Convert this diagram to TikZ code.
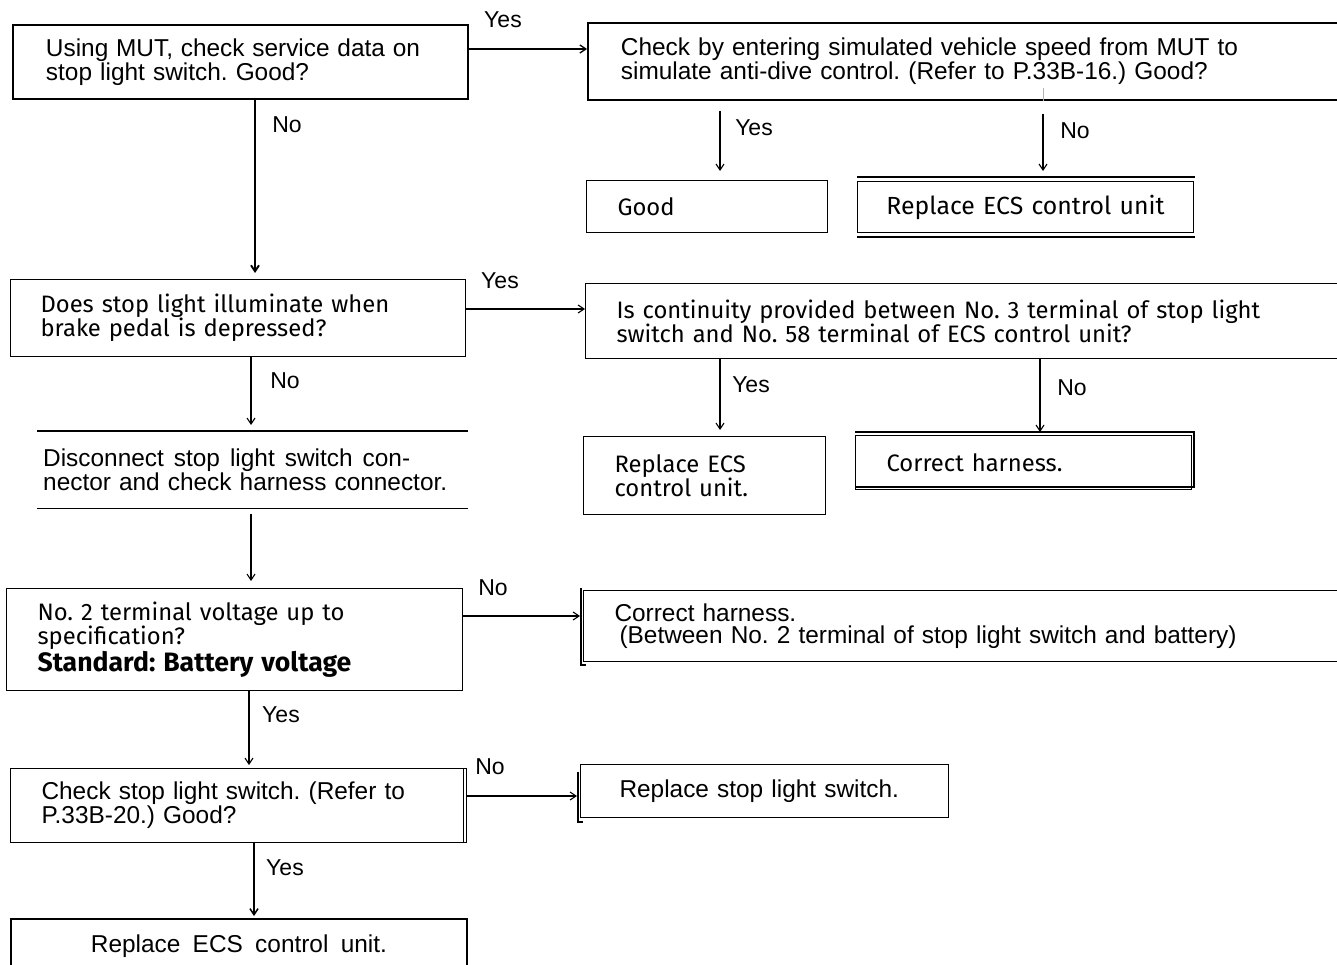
\documentclass[tikz,border=0pt]{standalone}
\usepackage{fontspec}
\setmainfont{Liberation Sans}
\newfontfamily\hum{Fira Sans}
\usetikzlibrary{arrows.meta}
\newcommand\spreadline[2]{\hbox to #1{\spaceskip=0.25em plus 1fil\relax #2}}
\frenchspacing
\begin{document}
\begin{tikzpicture}[x=1pt,y=-1pt,
  every node/.style={inner ysep=0pt},
  ar/.style={font=\frenchspacing\fontsize{24.4}{24}\selectfont},
  hu/.style={font=\frenchspacing\hum\fontsize{23.8}{24}\selectfont},
  box/.style={draw, line width=1.1pt, anchor=north west, align=left},
  heavy/.style={line width=1.9pt},
  lab/.style={font=\fontsize{23}{24}\selectfont, anchor=center},
  arr/.style={line width=1.1pt, -{Straight Barb[length=6pt,width=8pt]}},
]
\useasboundingbox (0,0) rectangle (1337,965);

% row 1
\node[box, heavy, ar, minimum width=455, minimum height=74, inner xsep=33, text width=389] (b1) at (12,24)
  {\spreadline{374pt}{Using MUT, check service data on}\\stop light switch. Good?};
\node[box, heavy, ar, minimum width=760, minimum height=77, inner xsep=33, text width=694] (b2) at (587,22)
  {Check by entering simulated vehicle speed from MUT to\\simulate anti-dive control. (Refer to P.33B-16.) Good?};
\draw[arr, line width=1.3pt] (b1.east |- {(0,49)}) -- (b2.west |- {(0,49)});
\node[lab] (y1) at (503,20) {Yes};

\node[box, hu, minimum width=241, minimum height=52, inner xsep=31, text width=179] (good) at (586,180) {Good};
\node[box, hu, font=\hum\fontsize{24.8}{24}\selectfont, minimum width=336, minimum height=51, inner xsep=0, text width=336, align=center] (rep1) at (857,181) {Replace ECS control unit};
\draw[heavy] (rep1.north west) ++(0,-4) -- ++(338,0);
\draw[heavy] (rep1.south west) ++(0,4) -- ++(338,0);
\draw[arr, shorten <=10pt, shorten >=9pt] (b2.south -| {(720,0)}) -- (good.north -| {(720,0)});
\node[lab] (y2) at (754,128) {Yes};
\draw[arr, shorten <=13pt, shorten >=10pt] (b2.south -| {(1043,0)}) -- (rep1.north -| {(1043,0)});
\draw[line width=0.8pt, gray!60] (1043,88) -- (b2.south -| {(1043,0)});
\node[lab] (n2) at (1075,131) {No};

% B1 -> B3
\node[box, hu, minimum width=455, minimum height=77, inner xsep=30, text width=395] (b3) at (10,279)
  {Does stop light illuminate when\\brake pedal is depressed?};
\draw[arr, line width=1.9pt, shorten >=6pt] (b1.south -| {(255,0)}) -- (b3.north -| {(255,0)});
\node[lab] (n1) at (287,125) {No};

\node[box, hu, minimum width=760, minimum height=75, inner xsep=31, text width=698] (b4) at (585,283)
  {Is continuity provided between No. 3 terminal of stop light\\switch and No. 58 terminal of ECS control unit?};
\draw[arr] (b3.east |- {(0,309)}) -- (b4.west |- {(0,309)});
\node[lab] (y3) at (500,281) {Yes};

\node[box, hu, minimum width=242, minimum height=78, inner xsep=31, text width=180] (rep2) at (583,436)
  {Replace ECS\\control unit.};
\draw[arr, shorten >=6pt] (b4.south -| {(720,0)}) -- (rep2.north -| {(720,0)});
\node[lab] (y4) at (751,385) {Yes};

\node[box, hu, minimum width=336, minimum height=54, inner xsep=31, text width=274] (ch1) at (855,435)
  {Correct harness.};
\draw[heavy] (ch1.north west) ++(0,-3) -- ++(340,0);
\draw[heavy] (ch1.south west) ++(0,-3) -- ++(340,0);
\draw[heavy] (ch1.north east) ++(2,-3) -- ++(0,54);
\draw[arr, shorten >=3pt] (b4.south -| {(1040,0)}) -- (ch1.north -| {(1040,0)});
\node[lab] (n4) at (1072,388) {No};

% B3 -> B5
\node[ar, anchor=north west, minimum width=431, minimum height=77, inner xsep=6, text width=419, align=left] (b5) at (37,431)
  {\spreadline{367pt}{Disconnect stop light switch con-}\\\spreadline{404pt}{nector and check harness connector.}};
\draw[line width=1.5pt] (b5.north west) -- (b5.north east);
\draw[line width=1.5pt] (b5.south west) -- (b5.south east);
\draw[arr, shorten >=6pt] (b3.south -| {(251,0)}) -- (b5.north -| {(251,0)});
\node[lab] (n3) at (285,381) {No};

% B6
\node[box, hu, minimum width=456, minimum height=102, inner xsep=31, text width=394] (b6) at (6,588)
  {No. 2 terminal voltage up to\\specification?\\{\bfseries\fontsize{26.6}{24}\selectfont Standard: Battery voltage}};
\draw[arr, shorten <=6pt, shorten >=7pt] (b5.south -| {(251,0)}) -- (b6.north -| {(251,0)});

\node[box, ar, minimum width=762, minimum height=71, inner xsep=30, text width=700] (b7) at (583,590)
  {Correct harness.\\[-2pt]\hspace*{5pt}(Between No. 2 terminal of stop light switch and battery)};
\draw[line width=1.1pt] (b7.north west) ++(-2,-2) -- ++(0,77) -- ++(5,0);
\draw[arr, shorten >=3pt] (b6.east |- {(0,616)}) -- (b7.west |- {(0,616)});
\node[lab] (n5) at (493,588) {No};

% B8
\node[box, ar, minimum width=456, minimum height=74, inner xsep=31, text width=394] (b8) at (10,768)
  {Check stop light switch. (Refer to\\P.33B-20.) Good?};
\draw[line width=1.1pt] (b8.north east) ++(-4,0) -- ++(0,74);
\draw[arr, shorten >=3pt] (b6.south -| {(249,0)}) -- (b8.north -| {(249,0)});
\node[lab] (y5) at (281,715) {Yes};

\node[box, ar, minimum width=368, minimum height=53, inner xsep=39, text width=290] (b9) at (580,764)
  {Replace stop light switch.};
\draw[line width=1.1pt] (b9.north west) ++(-2,8) -- ++(0,50) -- ++(5,0);
\draw[arr, shorten >=3pt] (b8.east |- {(0,796)}) -- (b9.west |- {(0,796)});
\node[lab] (n6) at (490,767) {No};

\node[box, heavy, ar, minimum width=456, minimum height=57, inner xsep=0, text width=456, align=center] (b10) at (10,918)
  {\raisebox{8pt}{\spreadline{296pt}{Replace ECS control unit.}}};
\draw[arr, line width=1.5pt, shorten >=2pt] (b8.south -| {(254,0)}) -- (b10.north -| {(254,0)});
\node[lab] (y6) at (285,868) {Yes};
\end{tikzpicture}
\end{document}
